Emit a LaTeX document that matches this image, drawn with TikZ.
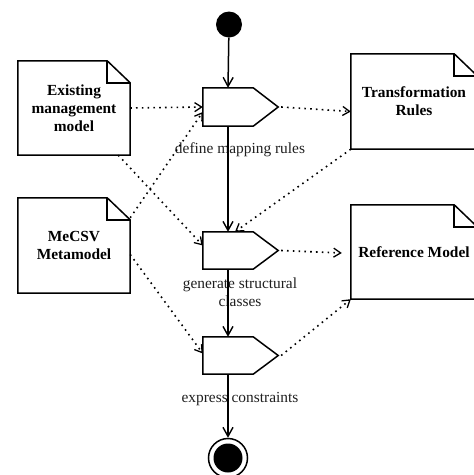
\documentclass[tikz,border=0pt]{standalone}
\usepackage{fontspec}
\setmainfont{Liberation Serif}
\usetikzlibrary{arrows.meta}

\tikzset{
  every node/.style={font=\fontsize{15.4}{18}\selectfont},
  action/.style={inner sep=0, minimum width=50pt, minimum height=#1},
  action/.default=38pt,
  doc/.style={inner sep=0, align=center, font=\fontsize{15.4}{18}\selectfont\bfseries},
  outline/.style={draw=black, line width=1.5pt, line join=miter},
  flow/.style={draw=black, line width=1.5pt, -{Straight Barb[length=9pt,width=10pt,line width=1.4pt]}},
  dep/.style={draw=black, line width=1.6pt, dash pattern=on 1.6pt off 4.2pt,
              -{Straight Barb[length=7pt,width=9pt,line width=1.3pt]}},
  lbl/.style={text=black!88, align=center}
}

\begin{document}
\begin{tikzpicture}[x=1pt, y=-1pt]
  \useasboundingbox (0,0) rectangle (474,475);
  \clip (0,0) rectangle (474,475);

  % initial and final states
  \node[circle, fill=black, inner sep=0, minimum size=26pt] (start) at (229,24.5) {};
  \node[circle, draw=black, line width=1.5pt, inner sep=0, minimum size=39pt] (stop) at (228,458) {};
  \node[circle, fill=black, inner sep=0, minimum size=29pt] (stopdot) at (228,458) {};

  % actions (rectangular body; the pointer is drawn below)
  \node[action] (a1) at (228,107) {};
  \node[action=37pt] (a2) at (228,250.5) {};
  \node[action=37pt] (a3) at (228,355.5) {};
  \foreach \a in {a1,a2,a3} {
    \coordinate (\a tip) at ([xshift=25pt]\a.east);
    \draw[outline] (\a.north west) -- (\a.north east) -- (\a tip)
                   -- (\a.south east) -- (\a.south west) -- cycle;
  }

  % action labels
  \node[lbl] (l1) at (240,150) {define mapping rules};
  \node[lbl] (l2) at (240,292) {generate structural\\classes};
  \node[lbl] (l3) at (240,399) {express constraints};

  % artefacts (notes with a folded corner)
  \node[doc, minimum width=112pt, minimum height=94pt] (emm)   at (74,108)    {Existing\\management\\model};
  \node[doc, minimum width=112pt, minimum height=95pt] (mecsv) at (74,245.5)  {MeCSV\\Metamodel};
  \node[doc, minimum width=126pt, minimum height=95pt] (trules) at (414,101.5) {Transformation\\Rules};
  \node[doc, minimum width=126pt, minimum height=94pt] (refm)  at (414,252)   {Reference Model};
  \foreach \n in {emm,mecsv,trules,refm} {
    \draw[outline] (\n.north west) -- ([xshift=-23pt]\n.north east)
                   -- ([yshift=-22pt]\n.north east) -- (\n.south east)
                   -- (\n.south west) -- cycle;
    \draw[outline] ([xshift=-23pt]\n.north east) |- ([yshift=-22pt]\n.north east);
  }

  % control flow
  \draw[flow] (start) -- (a1.north);
  \draw[flow] (a1.south) -- (a2.north);
  \draw[flow] (a2.south) -- (a3.north);
  \draw[flow] (a3.south) -- (stop.north);

  % object flow
  \draw[dep] (emm.east) -- (a1.west);
  \draw[dep] ([xshift=-12pt]emm.south east) -- ([yshift=5pt]a2.west);
  \draw[dep] ([yshift=-20pt]mecsv.north east) -- ([yshift=-5pt]a1.west);
  \draw[dep] ([yshift=-9pt]mecsv.east) -- ([yshift=2pt]a3.west);
  \draw[dep] ([xshift=3pt]a1tip) -- ([yshift=-10pt]trules.west);
  \draw[dep] (trules.south west) -- ([xshift=7pt]a2.north);
  \draw[dep] ([xshift=3pt]a2tip) -- ([xshift=-9pt,yshift=-1pt]refm.west);
  \draw[dep] ([xshift=3pt]a3tip) -- (refm.south west);
\end{tikzpicture}
\end{document}
